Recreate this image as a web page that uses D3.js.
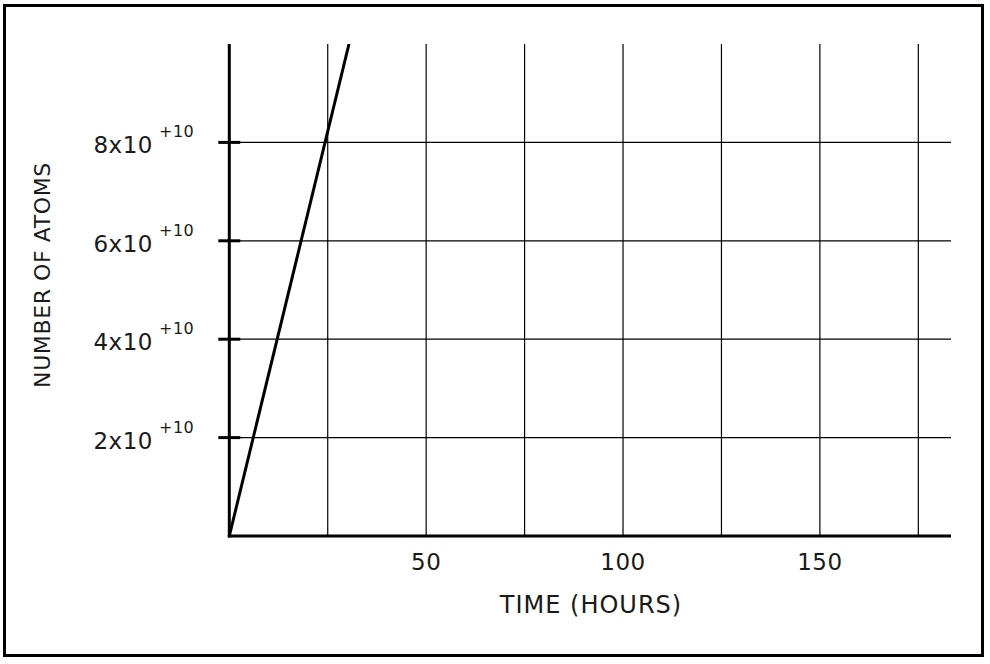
<!DOCTYPE html>
<html>
<head>
<meta charset="utf-8">
<script src="https://cdn.jsdelivr.net/npm/d3@7"></script>
<style>
html,body{margin:0;padding:0;background:#fff;}
svg{display:block;}
text{font-family:"DejaVu Sans",sans-serif;fill:#1a1a1a;}
</style>
</head>
<body>
<svg id="chart" width="990" height="664"></svg>
<script>
// Data
const lineTimes = [0, 30.4];          // hours
const lineAtoms = [0, 1e11];          // number of atoms
const xTicks = [50, 100, 150];
const xGrid = [25, 50, 75, 100, 125, 150, 175];
const yTicks = [2e10, 4e10, 6e10, 8e10];
const yTickMantissa = ["2", "4", "6", "8"];
const yTickExponent = "+10";
const xTitle = "TIME (HOURS)";
const yTitle = "NUMBER OF ATOMS";

const svg = d3.select("#chart");
const margin = {left: 229.3, right: 951, top: 44, bottom: 536};

const x = d3.scaleLinear().domain([0, 183.3]).range([margin.left, margin.right]);
const y = d3.scaleLinear().domain([0, 1e11]).range([margin.bottom, margin.top]);

// outer frame
svg.append("rect").attr("x", 4.5).attr("y", 5.5).attr("width", 978).attr("height", 650)
  .attr("fill", "none").attr("stroke", "#000").attr("stroke-width", 3);

// clip
svg.append("clipPath").attr("id", "plotclip").append("rect")
  .attr("x", margin.left).attr("y", margin.top)
  .attr("width", margin.right - margin.left).attr("height", margin.bottom - margin.top);

// vertical grid
svg.append("g").selectAll("line").data(xGrid).join("line")
  .attr("x1", d => x(d)).attr("x2", d => x(d))
  .attr("y1", y(1e11)).attr("y2", y(0))
  .attr("stroke", "#000").attr("stroke-width", 1.2);

// horizontal grid
svg.append("g").selectAll("line").data(yTicks).join("line")
  .attr("x1", x(0)).attr("x2", x.range()[1])
  .attr("y1", d => y(d)).attr("y2", d => y(d))
  .attr("stroke", "#000").attr("stroke-width", 1.2);

// y tick marks crossing axis
svg.append("g").selectAll("line").data(yTicks).join("line")
  .attr("x1", x(0) - 11).attr("x2", x(0) + 11)
  .attr("y1", d => y(d)).attr("y2", d => y(d))
  .attr("stroke", "#000").attr("stroke-width", 3);

// axes
svg.append("line").attr("x1", x(0)).attr("x2", x(0)).attr("y1", y(1e11)).attr("y2", y(0) + 1.5)
  .attr("stroke", "#000").attr("stroke-width", 3);
svg.append("line").attr("x1", x(0) - 1.5).attr("x2", x.range()[1]).attr("y1", y(0)).attr("y2", y(0))
  .attr("stroke", "#000").attr("stroke-width", 3);

// data line
const pts = lineTimes.map((t, i) => [t, lineAtoms[i]]);
svg.append("path").datum(pts)
  .attr("clip-path", "url(#plotclip)")
  .attr("d", d3.line().x(d => x(d[0])).y(d => y(d[1])))
  .attr("fill", "none").attr("stroke", "#000").attr("stroke-width", 3);

// x tick labels
svg.append("g").selectAll("text").data(xTicks).join("text")
  .attr("x", d => x(d)).attr("y", 570)
  .attr("text-anchor", "middle").attr("font-size", 23)
  .attr("letter-spacing", 0.5)
  .text(d => d);

// y tick labels
const yl = svg.append("g").selectAll("g").data(yTicks).join("g");
yl.append("text")
  .attr("x", 153).attr("y", d => y(d) + 11)
  .attr("text-anchor", "end").attr("font-size", 23).attr("letter-spacing", 0.5)
  .text((d, i) => yTickMantissa[i] + "x10");
yl.append("text")
  .attr("x", 159).attr("y", d => y(d) - 5)
  .attr("text-anchor", "start").attr("font-size", 16).attr("letter-spacing", 0.5)
  .text(yTickExponent);

// axis titles
svg.append("text").attr("x", 591).attr("y", 613)
  .attr("text-anchor", "middle").attr("font-size", 24).attr("letter-spacing", 1)
  .text(xTitle);
svg.append("text").attr("transform", "translate(50,275) rotate(-90)")
  .attr("text-anchor", "middle").attr("font-size", 22).attr("letter-spacing", 0.6)
  .text(yTitle);
</script>
</body>
</html>
